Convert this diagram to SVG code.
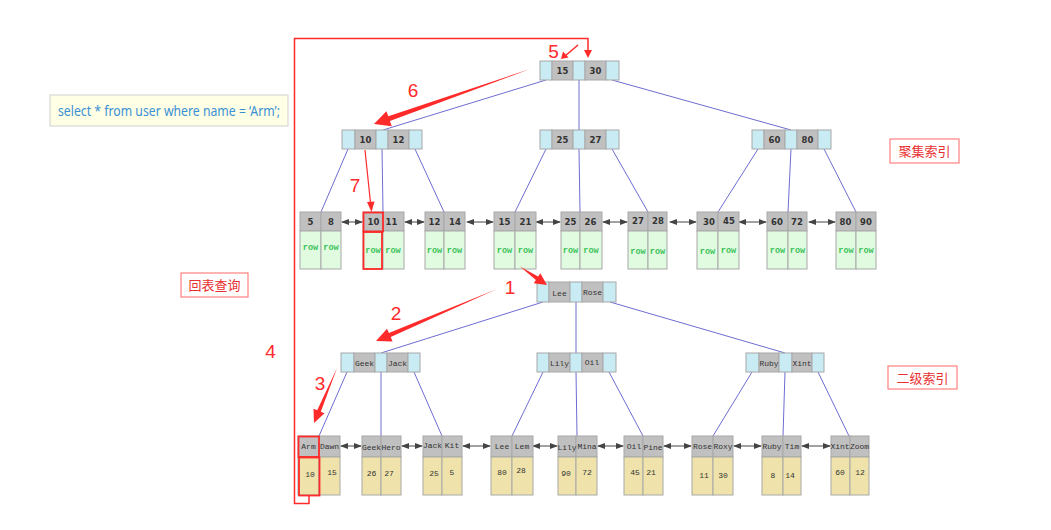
<svg xmlns="http://www.w3.org/2000/svg" width="1051" height="530" viewBox="0 0 1051 530">
<style>
.bg{fill:#ffffff}
.pb{fill:#c9ebf3;stroke:#a8a8a8;stroke-width:1}
.gk{fill:#c0c0c0;stroke:#a8a8a8;stroke-width:1}
.rw{fill:#e0fbe0;stroke:#a8a8a8;stroke-width:1}
.dv{fill:#efe3ab;stroke:#a8a8a8;stroke-width:1}
.kb{font-family:"DejaVu Sans",Verdana,sans-serif;font-weight:bold;font-size:8.5px;fill:#333;text-anchor:middle}
.km{font-family:"Liberation Mono","Courier New",monospace;font-size:8px;fill:#333;text-anchor:middle}
.row{font-family:"Liberation Mono","Courier New",monospace;font-weight:bold;font-size:8.5px;fill:#3cc25a;text-anchor:middle}
.ed{stroke:#6d6dd2;stroke-width:1;fill:none}
.lk{stroke:#444;stroke-width:1;fill:none;marker-start:url(#ah);marker-end:url(#ah)}
.red{stroke:#ff2a2a;fill:none}
.redf{fill:#ff2a2a}
.num{font-family:"Liberation Sans","Noto Sans",sans-serif;font-size:19px;fill:#ff2a2a;text-anchor:middle}
.lbl{fill:#fff;stroke:#ff8080;stroke-width:1.2}
.lt{font-family:"Noto Sans CJK SC","Noto Sans",sans-serif;font-size:13px;fill:#e83030;text-anchor:middle}
</style>
<defs>
<marker id="ah" viewBox="0 0 8 8" refX="7" refY="4" markerWidth="8" markerHeight="8" markerUnits="userSpaceOnUse" orient="auto-start-reverse">
<path d="M0,1 L8,4 L0,7 z" fill="#444"/>
</marker>
</defs>
<rect class="bg" x="0" y="0" width="1051" height="530"/>

<!-- SQL box -->
<g id="sql">
<rect x="50" y="95" width="238" height="31" fill="#ffffe6" stroke="#cfcfcf"/>
<text x="58" y="116" textLength="222" lengthAdjust="spacingAndGlyphs" font-family="'Noto Sans','Liberation Sans',sans-serif" font-size="13.5" fill="#3a90d4">select * from user where name = ‘Arm’;</text>
</g>

<!-- connectors -->
<g id="connectors">
<!-- clustered index -->
<line class="ed" x1="546" y1="80" x2="383" y2="130"/>
<line class="ed" x1="579" y1="80" x2="579" y2="130"/>
<line class="ed" x1="612" y1="80" x2="791" y2="130"/>
<line class="ed" x1="348" y1="149" x2="321" y2="212"/>
<line class="ed" x1="382" y1="149" x2="383" y2="212"/>
<line class="ed" x1="415" y1="149" x2="444" y2="212"/>
<line class="ed" x1="546" y1="149" x2="515" y2="212"/>
<line class="ed" x1="579" y1="149" x2="580" y2="212"/>
<line class="ed" x1="612" y1="149" x2="648" y2="212"/>
<line class="ed" x1="758" y1="149" x2="718" y2="212"/>
<line class="ed" x1="791" y1="149" x2="788" y2="212"/>
<line class="ed" x1="824" y1="149" x2="856" y2="212"/>
<!-- leaf links top -->
<line class="lk" x1="342" y1="222" x2="362" y2="222"/>
<line class="lk" x1="405" y1="222" x2="424" y2="222"/>
<line class="lk" x1="467" y1="222" x2="493" y2="222"/>
<line class="lk" x1="536" y1="222" x2="560" y2="222"/>
<line class="lk" x1="603" y1="222" x2="627" y2="222"/>
<line class="lk" x1="670" y1="222" x2="696" y2="222"/>
<line class="lk" x1="739" y1="222" x2="766" y2="222"/>
<line class="lk" x1="809" y1="222" x2="835" y2="222"/>
<!-- secondary index -->
<line class="ed" x1="543" y1="302" x2="381" y2="353"/>
<line class="ed" x1="576" y1="302" x2="576" y2="353"/>
<line class="ed" x1="610" y1="302" x2="785" y2="353"/>
<line class="ed" x1="347" y1="372" x2="319" y2="436"/>
<line class="ed" x1="381" y1="372" x2="381" y2="436"/>
<line class="ed" x1="414" y1="372" x2="442" y2="436"/>
<line class="ed" x1="543" y1="372" x2="512" y2="436"/>
<line class="ed" x1="576" y1="372" x2="577" y2="436"/>
<line class="ed" x1="609" y1="372" x2="643" y2="436"/>
<line class="ed" x1="752" y1="372" x2="713" y2="436"/>
<line class="ed" x1="785" y1="372" x2="783" y2="436"/>
<line class="ed" x1="818" y1="372" x2="849" y2="436"/>
<!-- leaf links bottom -->
<line class="lk" x1="341" y1="446" x2="361" y2="446"/>
<line class="lk" x1="402" y1="446" x2="422" y2="446"/>
<line class="lk" x1="463" y1="446" x2="490" y2="446"/>
<line class="lk" x1="533" y1="446" x2="557" y2="446"/>
<line class="lk" x1="598" y1="446" x2="623" y2="446"/>
<line class="lk" x1="664" y1="446" x2="691" y2="446"/>
<line class="lk" x1="734" y1="446" x2="761" y2="446"/>
<line class="lk" x1="802" y1="446" x2="830" y2="446"/>
</g>

<!-- clustered index internal nodes -->
<g id="c-root">
<rect class="pb" x="540" y="61" width="12" height="19"/><rect class="gk" x="552" y="61" width="21" height="19"/><rect class="pb" x="573" y="61" width="12" height="19"/><rect class="gk" x="585" y="61" width="21" height="19"/><rect class="pb" x="606" y="61" width="13" height="19"/>
<text class="kb" x="562.5" y="74">15</text><text class="kb" x="595.5" y="74">30</text>
</g>
<g id="c-n1">
<rect class="pb" x="342" y="130" width="13" height="19"/><rect class="gk" x="355" y="130" width="21" height="19"/><rect class="pb" x="376" y="130" width="12" height="19"/><rect class="gk" x="388" y="130" width="21" height="19"/><rect class="pb" x="409" y="130" width="13" height="19"/>
<text class="kb" x="365.5" y="143">10</text><text class="kb" x="398.5" y="143">12</text>
</g>
<g id="c-n2">
<rect class="pb" x="540" y="130" width="12" height="19"/><rect class="gk" x="552" y="130" width="21" height="19"/><rect class="pb" x="573" y="130" width="12" height="19"/><rect class="gk" x="585" y="130" width="21" height="19"/><rect class="pb" x="606" y="130" width="13" height="19"/>
<text class="kb" x="562.5" y="143">25</text><text class="kb" x="595.5" y="143">27</text>
</g>
<g id="c-n3">
<rect class="pb" x="752" y="130" width="12" height="19"/><rect class="gk" x="764" y="130" width="21" height="19"/><rect class="pb" x="785" y="130" width="12" height="19"/><rect class="gk" x="797" y="130" width="21" height="19"/><rect class="pb" x="818" y="130" width="13" height="19"/>
<text class="kb" x="774.5" y="143">60</text><text class="kb" x="807.5" y="143">80</text>
</g>

<!-- clustered index leaves -->
<g id="c-l1"><rect class="gk" x="300" y="212" width="21" height="19"/><rect class="gk" x="321" y="212" width="20" height="19"/><rect class="rw" x="300" y="231" width="21" height="38"/><rect class="rw" x="321" y="231" width="20" height="38"/><text class="kb" x="310.5" y="225">5</text><text class="kb" x="331" y="225">8</text><text class="row" x="310.5" y="250">row</text><text class="row" x="331" y="250">row</text></g>
<g id="c-l2"><rect class="gk" x="363" y="212" width="20" height="19"/><rect class="gk" x="383" y="212" width="21" height="19"/><rect class="rw" x="363" y="231" width="20" height="38"/><rect class="rw" x="383" y="231" width="21" height="38"/><text class="kb" x="373.5" y="225">10</text><text class="kb" x="391.5" y="225">11</text><text class="row" x="373" y="253">row</text><text class="row" x="393" y="253">row</text></g>
<g id="c-l3"><rect class="gk" x="425" y="212" width="19" height="19"/><rect class="gk" x="444" y="212" width="21" height="19"/><rect class="rw" x="425" y="231" width="19" height="38"/><rect class="rw" x="444" y="231" width="21" height="38"/><text class="kb" x="434.5" y="225">12</text><text class="kb" x="455" y="225">14</text><text class="row" x="434.5" y="253">row</text><text class="row" x="454.5" y="253">row</text></g>
<g id="c-l4"><rect class="gk" x="494" y="212" width="21" height="19"/><rect class="gk" x="515" y="212" width="21" height="19"/><rect class="rw" x="494" y="231" width="21" height="38"/><rect class="rw" x="515" y="231" width="21" height="38"/><text class="kb" x="504.5" y="225">15</text><text class="kb" x="525.5" y="225">21</text><text class="row" x="504.5" y="253">row</text><text class="row" x="525.5" y="253">row</text></g>
<g id="c-l5"><rect class="gk" x="561" y="212" width="19" height="19"/><rect class="gk" x="580" y="212" width="22" height="19"/><rect class="rw" x="561" y="231" width="19" height="38"/><rect class="rw" x="580" y="231" width="22" height="38"/><text class="kb" x="570.5" y="225">25</text><text class="kb" x="590.5" y="225">26</text><text class="row" x="570.5" y="253">row</text><text class="row" x="591" y="253">row</text></g>
<g id="c-l6"><rect class="gk" x="628" y="212" width="20" height="19"/><rect class="gk" x="648" y="212" width="19" height="19"/><rect class="rw" x="628" y="231" width="20" height="38"/><rect class="rw" x="648" y="231" width="19" height="38"/><text class="kb" x="638" y="224">27</text><text class="kb" x="658" y="224">28</text><text class="row" x="638" y="254">row</text><text class="row" x="657.5" y="254">row</text></g>
<g id="c-l7"><rect class="gk" x="697" y="212" width="21" height="19"/><rect class="gk" x="718" y="212" width="21" height="19"/><rect class="rw" x="697" y="231" width="21" height="38"/><rect class="rw" x="718" y="231" width="21" height="38"/><text class="kb" x="709" y="225">30</text><text class="kb" x="729" y="224">45</text><text class="row" x="707.5" y="254">row</text><text class="row" x="728.5" y="253">row</text></g>
<g id="c-l8"><rect class="gk" x="767" y="212" width="21" height="19"/><rect class="gk" x="788" y="212" width="19" height="19"/><rect class="rw" x="767" y="231" width="21" height="38"/><rect class="rw" x="788" y="231" width="19" height="38"/><text class="kb" x="777" y="225">60</text><text class="kb" x="797" y="225">72</text><text class="row" x="777.5" y="253">row</text><text class="row" x="797.5" y="253">row</text></g>
<g id="c-l9"><rect class="gk" x="836" y="212" width="20" height="19"/><rect class="gk" x="856" y="212" width="20" height="19"/><rect class="rw" x="836" y="231" width="20" height="38"/><rect class="rw" x="856" y="231" width="20" height="38"/><text class="kb" x="845.5" y="225">80</text><text class="kb" x="866" y="225">90</text><text class="row" x="846" y="253">row</text><text class="row" x="866" y="253">row</text></g>

<!-- secondary index internal nodes -->
<g id="s-root">
<rect class="pb" x="537" y="282" width="12" height="20"/><rect class="gk" x="549" y="282" width="21" height="20"/><rect class="pb" x="570" y="282" width="12" height="20"/><rect class="gk" x="582" y="282" width="21" height="20"/><rect class="pb" x="603" y="282" width="13" height="20"/>
<text class="km" x="559.5" y="295.5">Lee</text><text class="km" x="592.5" y="294.5">Rose</text>
</g>
<g id="s-n1">
<rect class="pb" x="341" y="353" width="13" height="19"/><rect class="gk" x="354" y="353" width="21" height="19"/><rect class="pb" x="375" y="353" width="12" height="19"/><rect class="gk" x="387" y="353" width="21" height="19"/><rect class="pb" x="408" y="353" width="12" height="19"/>
<text class="km" x="364.5" y="366">Geek</text><text class="km" x="397.5" y="366">Jack</text>
</g>
<g id="s-n2">
<rect class="pb" x="537" y="353" width="12" height="19"/><rect class="gk" x="549" y="353" width="21" height="19"/><rect class="pb" x="570" y="353" width="12" height="19"/><rect class="gk" x="582" y="353" width="21" height="19"/><rect class="pb" x="603" y="353" width="13" height="19"/>
<text class="km" x="559.5" y="366">Lily</text><text class="km" x="592" y="365">Oil</text>
</g>
<g id="s-n3">
<rect class="pb" x="746" y="353" width="13" height="19"/><rect class="gk" x="759" y="353" width="20" height="19"/><rect class="pb" x="779" y="353" width="13" height="19"/><rect class="gk" x="792" y="353" width="20" height="19"/><rect class="pb" x="812" y="353" width="12" height="19"/>
<text class="km" x="769" y="366">Ruby</text><text class="km" x="802" y="366">Xint</text>
</g>

<!-- secondary index leaves -->
<g id="s-l1"><rect class="gk" x="298" y="436" width="21" height="21"/><rect class="gk" x="319" y="436" width="21" height="21"/><rect class="dv" x="298" y="457" width="21" height="38"/><rect class="dv" x="319" y="457" width="21" height="38"/><text class="km" x="308.5" y="449">Arm</text><text class="km" x="329.5" y="449">Dawn</text><text class="km" x="310" y="477">10</text><text class="km" x="332" y="475">15</text></g>
<g id="s-l2"><rect class="gk" x="362" y="436" width="19" height="21"/><rect class="gk" x="381" y="436" width="20" height="21"/><rect class="dv" x="362" y="457" width="19" height="38"/><rect class="dv" x="381" y="457" width="20" height="38"/><text class="km" x="371.5" y="450">Geek</text><text class="km" x="391" y="450">Hero</text><text class="km" x="371.5" y="476">26</text><text class="km" x="389" y="476">27</text></g>
<g id="s-l3"><rect class="gk" x="423" y="436" width="19" height="21"/><rect class="gk" x="442" y="436" width="20" height="21"/><rect class="dv" x="423" y="457" width="19" height="38"/><rect class="dv" x="442" y="457" width="20" height="38"/><text class="km" x="432.5" y="448">Jack</text><text class="km" x="452" y="448">Kit</text><text class="km" x="434" y="476">25</text><text class="km" x="452" y="475">5</text></g>
<g id="s-l4"><rect class="gk" x="491" y="436" width="21" height="21"/><rect class="gk" x="512" y="436" width="21" height="21"/><rect class="dv" x="491" y="457" width="21" height="38"/><rect class="dv" x="512" y="457" width="21" height="38"/><text class="km" x="502" y="449">Lee</text><text class="km" x="522" y="449">Lem</text><text class="km" x="502" y="475">80</text><text class="km" x="521" y="473">28</text></g>
<g id="s-l5"><rect class="gk" x="558" y="436" width="18" height="21"/><rect class="gk" x="576" y="436" width="21" height="21"/><rect class="dv" x="558" y="457" width="18" height="38"/><rect class="dv" x="576" y="457" width="21" height="38"/><text class="km" x="567" y="450">Lily</text><text class="km" x="587" y="449">Mina</text><text class="km" x="566" y="476">90</text><text class="km" x="587" y="475">72</text></g>
<g id="s-l6"><rect class="gk" x="624" y="436" width="19" height="21"/><rect class="gk" x="643" y="436" width="20" height="21"/><rect class="dv" x="624" y="457" width="19" height="38"/><rect class="dv" x="643" y="457" width="20" height="38"/><text class="km" x="634" y="449">Oil</text><text class="km" x="653" y="450">Pine</text><text class="km" x="635" y="475">45</text><text class="km" x="651" y="475">21</text></g>
<g id="s-l7"><rect class="gk" x="692" y="436" width="21" height="21"/><rect class="gk" x="713" y="436" width="20" height="21"/><rect class="dv" x="692" y="457" width="21" height="38"/><rect class="dv" x="713" y="457" width="20" height="38"/><text class="km" x="702.5" y="449">Rose</text><text class="km" x="723" y="449">Roxy</text><text class="km" x="704" y="478">11</text><text class="km" x="723" y="478">30</text></g>
<g id="s-l8"><rect class="gk" x="762" y="436" width="21" height="21"/><rect class="gk" x="783" y="436" width="18" height="21"/><rect class="dv" x="762" y="457" width="21" height="38"/><rect class="dv" x="783" y="457" width="18" height="38"/><text class="km" x="772" y="449">Ruby</text><text class="km" x="792" y="449">Tim</text><text class="km" x="773" y="478">8</text><text class="km" x="790" y="478">14</text></g>
<g id="s-l9"><rect class="gk" x="831" y="436" width="19" height="21"/><rect class="gk" x="850" y="436" width="19" height="21"/><rect class="dv" x="831" y="457" width="19" height="38"/><rect class="dv" x="850" y="457" width="19" height="38"/><text class="km" x="840" y="449">Xint</text><text class="km" x="859.5" y="449">Zoom</text><text class="km" x="840" y="475">60</text><text class="km" x="860" y="475">12</text></g>

<!-- labels -->
<g id="lbl-cluster"><rect class="lbl" x="890" y="139" width="69" height="24"/><text class="lt" x="924.5" y="156">聚集索引</text></g>
<g id="lbl-secondary"><rect class="lbl" x="888" y="366" width="69" height="23"/><text class="lt" x="922.5" y="382.5">二级索引</text></g>
<g id="lbl-back"><rect class="lbl" x="181" y="273" width="67" height="24"/><text class="lt" x="214.5" y="290">回表查询</text></g>

<!-- red annotations -->
<g id="annotations">
<rect class="red" x="363.5" y="212.5" width="19.5" height="19" stroke-width="1.8"/>
<rect class="red" x="363.5" y="232" width="18.5" height="37" stroke-width="1.8"/>
<rect class="red" x="298.5" y="436.5" width="20.5" height="20.5" stroke-width="1.8"/>
<rect class="red" x="299" y="457.5" width="20.5" height="38" stroke-width="1.8"/>
<polyline class="red" stroke-width="1.5" points="309,496 309,503.5 294.5,503.5 294.5,38.5 588,38.5 588,52"/>
<polygon class="redf" points="584,50 592,50 588,58"/>
<line class="red" stroke-width="1.5" x1="578" y1="45" x2="565" y2="56"/>
<polygon class="redf" points="561,59 563,51.5 568.5,57.5"/>
<polygon class="redf" points="530,69 389.9,121.1 391.8,126.2 374,124 386.4,111.2 388.3,116.3"/>
<line class="red" stroke-width="1.2" x1="365" y1="150" x2="370.5" y2="203"/>
<polygon class="redf" points="371.5,212 367,202 374.5,201.5"/>
<polygon class="redf" points="520,266.5 535.9,280.0 533.7,283.3 547,285 540.3,273.3 538.1,276.6"/>
<polygon class="redf" points="497,289 390.7,337.1 392.6,341.5 376,341 387,328.7 388.9,333.1"/>
<polygon class="redf" points="337,368 320.8,411.8 324.5,413.3 314,423 313.5,408.7 317.2,410.2"/>
<text class="num" x="553.5" y="58">5</text>
<text class="num" x="413" y="97">6</text>
<text class="num" x="355" y="192">7</text>
<text class="num" x="510" y="294">1</text>
<text class="num" x="396" y="320">2</text>
<text class="num" x="320" y="390">3</text>
<text class="num" x="270.5" y="358" font-size="20">4</text>
</g>
</svg>
